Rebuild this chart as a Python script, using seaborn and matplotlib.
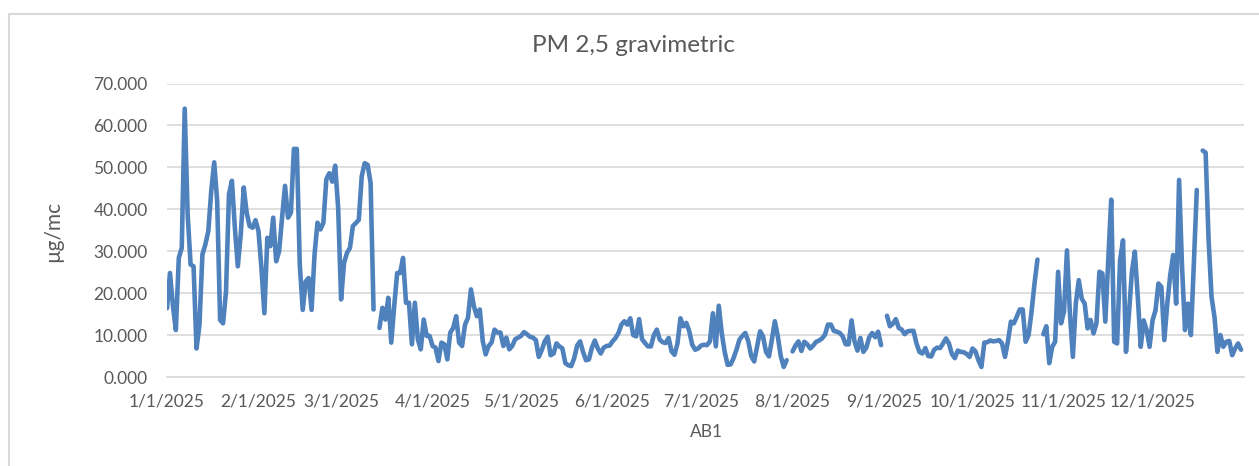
import numpy as np
import pandas as pd
import matplotlib
matplotlib.use("Agg")
import matplotlib.pyplot as plt
import seaborn as sns

# daily PM 2,5 values, one list per month (None = no sample)
jan = [16.4, 24.8, 17, 11.2, 28.4, 30.8, 64, 38.8, 26.8, 26.4, 6.8, 12.4, 29.2, 31.6, 34.8, 44.4,
       51.2, 42, 13.6, 12.8, 20.4, 43.6, 46.8, 35.6, 26.4, 34, 45.2, 39.2, 36, 35.6, 37.4]
feb = [34.8, 26, 15.2, 33.2, 31.2, 38, 27.6, 30, 38, 45.6, 38, 39.2, 54.4, 54.4, 26.8, 16,
       22.8, 23.6, 16, 29.2, 36.8, 35.2, 36.8, 47.2, 48.6, 46.6, 50.4, 40.4]
mar = [18.5, 27.2, 29.6, 30.8, 36, 36.7, 37.5, 47.9, 51, 50.6, 46.3, 16.1, None, 11.7, 16.5, 13.7,
       18.9, 8.2, 16.9, 24.8, 24.8, 28.4, 17.7, 17.7, 7.8, 17.7, 9, 6.6, 13.7, 9.8, 9.8]
apr = [7.4, 7, 3.8, 8.2, 7.8, 4.2, 10.6, 11.7, 14.5, 8.2, 7.4, 12.5, 14.1, 20.9, 16.9, 14.5,
       16.1, 8.6, 5.4, 7.4, 8.2, 11.3, 10.6, 10.6, 7.4, 9.4, 6.6, 7.4, 9, 9.4]
may = [9.8, 10.7, 10.2, 9.6, 9.4, 8.8, 4.8, 6.4, 8.5, 9.6, 5.2, 5.6, 8, 7.3, 6.8, 3.3,
       2.8, 2.6, 4.5, 7.5, 8.5, 6, 4, 4.2, 7, 8.7, 6.8, 5.6, 7, 7.4, 7.5]
jun = [8.5, 9.3, 10.5, 12.5, 13.3, 12.5, 14, 10, 9.7, 13.8, 9, 8.1, 7.3, 7.3, 10, 11.3,
       8.9, 8.3, 8.1, 9.3, 6.1, 5.3, 8, 14, 12.1, 12.9, 10.9, 7.7, 6.5, 6.8]
jul = [7.5, 7.7, 7.6, 8.5, 15.2, 7.3, 17, 10.5, 6, 2.9, 3, 4.5, 6.5, 8.9, 9.8, 10.5,
       8.5, 5, 3.7, 7.3, 10.9, 9.7, 6, 4.9, 8.9, 13.3, 9.7, 5, 2.4, 4.0, None]
aug = [6.1, 7.5, 8.5, 6.2, 8.4, 7.8, 6.8, 7.5, 8.4, 8.7, 9.2, 10.1, 12.5, 12.5, 11, 10.8,
       10.5, 9.7, 7.8, 7.8, 13.5, 8.5, 6.3, 9.3, 6, 7, 9.5, 10.5, 9.5, 10.8, 7.6]
sep = [None, 14.6, 12.1, 12.7, 13.8, 11.7, 11.3, 10.2, 10.9, 11, 11, 8, 6, 5.6, 6.9, 5,
       4.9, 6.5, 7, 6.9, 8, 9.2, 8, 5.5, 4.5, 6.3, 6, 5.9, 5.5, 4.8]
oct_ = [6.8, 6.1, 4, 2.4, 8.2, 8.3, 8.7, 8.5, 8.6, 8.8, 8, 4.8, 8.5, 13.2, 12.8, 14.4,
        16.1, 16.1, 8.4, 10, 15.6, 22.3, 28, None, 10.2, 12.1, 3.3, 7.2, 8.4, 25.1, 12.8]
nov = [15.6, 30.2, 15.2, 4.8, 17.5, 23.1, 18.7, 17.5, 11.6, 13.6, 10.4, 12.8, 25.1, 24.7, 13.2, 28,
       42.3, 8.4, 8, 27.9, 32.6, 6, 15, 25, 29.9, 19.1, 7.2, 13.5, 11.2, 7.2]
dec = [13.5, 15.9, 22.3, 21.5, 8.8, 17.5, 24.3, 29.1, 17.5, 47, 26.3, 11.2, 17.5, 10, 27, 44.6,
       None, 54, 53.5, 32.7, 19.1, 14.3, 6, 10, 7.2, 8.4, 8.6, 5.2, 6.8, 8, 6.5]

y_ticks = [0, 10, 20, 30, 40, 50, 60, 70]
title = "PM 2,5 gravimetric"
x_label = "AB1"
y_label = "µg/mc"

values = jan + feb + mar + apr + may + jun + jul + aug + sep + oct_ + nov + dec
dates = pd.date_range("2025-01-01", "2025-12-31", freq="D")
df = pd.DataFrame({"date": dates, "pm": pd.to_numeric(pd.Series(values), errors="coerce")})
# split into segments at missing days so the line breaks there
df["segment"] = df["pm"].isna().cumsum()
df = df.dropna()

sns.set_style("white")
plt.rcParams["font.family"] = ["Lato", "DejaVu Sans"]

grey = "#595959"
fig = plt.figure(figsize=(12.59, 4.66), dpi=100)
ax = fig.add_axes([167 / 1259, 1 - 377 / 466, (1244 - 167) / 1259, (377 - 83.5) / 466])

sns.lineplot(data=df, x="date", y="pm", units="segment", estimator=None, color="#4F81BD",
             linewidth=3.3, ax=ax, solid_joinstyle="round", solid_capstyle="round")

ax.set_xlim(pd.Timestamp("2025-01-01"), pd.Timestamp("2026-01-01"))
ax.set_ylim(0, 70)
ax.set_yticks(y_ticks)
ax.set_yticklabels([f"{v:.3f}" for v in y_ticks])
month_starts = pd.date_range("2025-01-01", "2026-01-01", freq="MS")
ax.set_xticks(month_starts)
ax.set_xticklabels([f"{d.month}/{d.day}/{d.year}" if d.year == 2025 else "" for d in month_starts])

ax.grid(axis="y", color="#d9d9d9", linewidth=1.2)
ax.grid(axis="x", visible=False)
ax.set_axisbelow(True)
for side in ["left", "right", "top"]:
    ax.spines[side].set_visible(False)
ax.spines["bottom"].set_color("#d9d9d9")
ax.spines["bottom"].set_linewidth(1.2)
ax.tick_params(axis="x", direction="out", length=6, width=1.2, color="#d9d9d9",
               labelsize=12.5, labelcolor=grey, pad=6)
ax.tick_params(axis="y", length=0, labelsize=12.5, labelcolor=grey, pad=14)

ax.set_xlabel("")
ax.set_ylabel("")
fig.text(634 / 1259, 1 - 45 / 466, title, ha="center", va="center", fontsize=17.5, color=grey)
fig.text(706 / 1259, 1 - 432 / 466, x_label, ha="center", va="center", fontsize=12.5, color=grey)
fig.text(53 / 1259, 1 - 231 / 466, y_label, ha="center", va="center", rotation=90,
         fontsize=15, color=grey)

# chart area border
fig.patches.append(plt.Rectangle((8.5 / 1259, -0.1), 1.2, 1 - 13.5 / 466 + 0.1,
                                 transform=fig.transFigure, fill=False,
                                 edgecolor="#d9d9d9", linewidth=1.5))

fig.savefig("out.png", dpi=100)
